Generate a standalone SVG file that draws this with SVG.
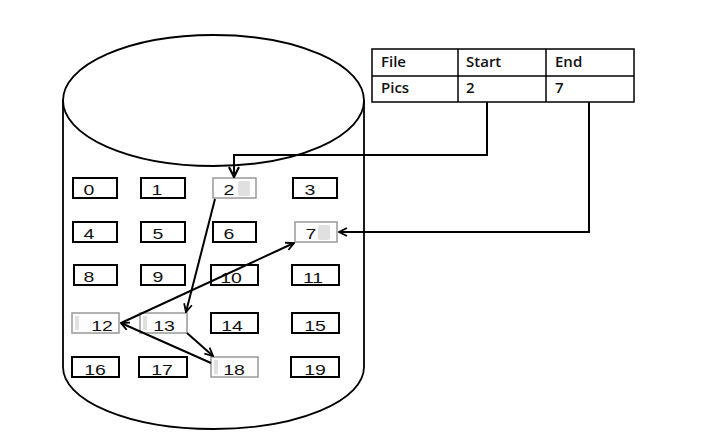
<svg xmlns="http://www.w3.org/2000/svg" width="710" height="445" viewBox="0 0 710 445">
<defs>
<marker id="arr" viewBox="0 0 10 10" refX="9" refY="5" markerWidth="10" markerHeight="10" markerUnits="userSpaceOnUse" orient="auto">
<path d="M1,1 L9,5 L1,9" fill="none" stroke="#000" stroke-width="1.8"/>
</marker>
<marker id="arrb" viewBox="0 0 12 12" refX="11" refY="6" markerWidth="12" markerHeight="12" markerUnits="userSpaceOnUse" orient="auto">
<path d="M1,1 L11,6 L1,11" fill="none" stroke="#000" stroke-width="2.2"/>
</marker>
</defs>
<style>
.blk{fill:#fff;stroke:#000;stroke-width:2}
.hl{fill:#fdfdfd;stroke:#999;stroke-width:1.5}
.patch{fill:#e0e0e0}
.bt{font-family:"Liberation Sans",Arial,sans-serif;font-size:15px;text-anchor:middle;fill:#111}
.tt{font-family:"Open Sans","Noto Sans",sans-serif;font-size:15px;font-weight:600;fill:#111}
.cyl{fill:none;stroke:#000;stroke-width:1.8}
.cn{fill:none;stroke:#000;stroke-width:2}
</style>
<rect width="710" height="445" fill="#fff"/>
<g id="cylinder">
<path class="cyl" d="M63,100 L63,367 A150.5,62 0 0 0 364,367 L364,100"/>
<ellipse class="cyl" cx="213.5" cy="100.5" rx="150.5" ry="65.5"/>
</g>
<g id="table">
<rect x="372" y="49" width="262" height="53" fill="#fff" stroke="#000" stroke-width="1.5"/>
<line x1="372" y1="76" x2="634" y2="76" stroke="#000" stroke-width="1.5"/>
<line x1="458" y1="49" x2="458" y2="102" stroke="#000" stroke-width="1.5"/>
<line x1="546" y1="49" x2="546" y2="102" stroke="#000" stroke-width="1.5"/>
<text class="tt" x="381" y="67">File</text>
<text class="tt" x="466" y="67">Start</text>
<text class="tt" x="555" y="67">End</text>
<text class="tt" x="381" y="93">Pics</text>
<text class="tt" x="466" y="93">2</text>
<text class="tt" x="555" y="93">7</text>
</g>
<g id="b0"><rect class="blk" x="73" y="178" width="44" height="20"/><text class="bt" transform="matrix(1.3 0 0 1 89 195)">0</text></g>
<g id="b1"><rect class="blk" x="141" y="178" width="44" height="20"/><text class="bt" transform="matrix(1.3 0 0 1 157 195)">1</text></g>
<g id="b2"><rect class="hl" x="213" y="178" width="43" height="20"/><rect class="patch" x="238" y="181" width="12" height="15" rx="2"/><text class="bt" transform="matrix(1.3 0 0 1 229 195)">2</text></g>
<g id="b3"><rect class="blk" x="293" y="178" width="44" height="20"/><text class="bt" transform="matrix(1.3 0 0 1 310 195)">3</text></g>
<g id="b4"><rect class="blk" x="73" y="222" width="44" height="20"/><text class="bt" transform="matrix(1.3 0 0 1 89 239)">4</text></g>
<g id="b5"><rect class="blk" x="141" y="222" width="44" height="20"/><text class="bt" transform="matrix(1.3 0 0 1 158 239)">5</text></g>
<g id="b6"><rect class="blk" x="213" y="222" width="43" height="20"/><text class="bt" transform="matrix(1.3 0 0 1 229 239)">6</text></g>
<g id="b7"><rect class="hl" x="295" y="222" width="42" height="20"/><rect class="patch" x="318" y="225" width="12" height="15" rx="2"/><text class="bt" transform="matrix(1.3 0 0 1 311 239)">7</text></g>
<g id="b8"><rect class="blk" x="74" y="265" width="43" height="20"/><text class="bt" transform="matrix(1.3 0 0 1 89 282)">8</text></g>
<g id="b9"><rect class="blk" x="141" y="265" width="44" height="20"/><text class="bt" transform="matrix(1.3 0 0 1 158 282)">9</text></g>
<g id="b10"><rect class="blk" x="211" y="265" width="47" height="20"/><text class="bt" transform="matrix(1.3 0 0 1 231 283)">10</text></g>
<g id="b11"><rect class="blk" x="292" y="265" width="47" height="20"/><text class="bt" transform="matrix(1.3 0 0 1 313 283)">11</text></g>
<g id="b12"><rect class="hl" x="72" y="313" width="47" height="20"/><rect class="patch" x="75" y="316" width="4" height="14"/><text class="bt" transform="matrix(1.3 0 0 1 102 331)">12</text></g>
<g id="b13"><rect class="hl" x="140" y="313" width="47" height="20"/><rect class="patch" x="143" y="316" width="4" height="14"/><text class="bt" transform="matrix(1.3 0 0 1 164 331)">13</text></g>
<g id="b14"><rect class="blk" x="211" y="313" width="47" height="20"/><text class="bt" transform="matrix(1.3 0 0 1 232 331)">14</text></g>
<g id="b15"><rect class="blk" x="292" y="313" width="47" height="20"/><text class="bt" transform="matrix(1.3 0 0 1 315 331)">15</text></g>
<g id="b16"><rect class="blk" x="72" y="357" width="47" height="20"/><text class="bt" transform="matrix(1.3 0 0 1 95 375)">16</text></g>
<g id="b17"><rect class="blk" x="139" y="357" width="48" height="20"/><text class="bt" transform="matrix(1.3 0 0 1 162 375)">17</text></g>
<g id="b18"><rect class="hl" x="211" y="357" width="47" height="20"/><rect class="patch" x="214" y="360" width="4" height="14"/><text class="bt" transform="matrix(1.3 0 0 1 234 375)">18</text></g>
<g id="b19"><rect class="blk" x="291" y="357" width="48" height="20"/><text class="bt" transform="matrix(1.3 0 0 1 315 375)">19</text></g>
<g id="connectors">
<path class="cn" d="M487,102 L487,155 L234,155 L234,177" marker-end="url(#arrb)"/>
<path class="cn" d="M589,102 L589,232 L339,232" stroke-width="2.2" marker-end="url(#arr)"/>
<path class="cn" d="M215,199 L186,312" marker-end="url(#arr)"/>
<path class="cn" d="M121,323 L294,243" marker-end="url(#arr)"/>
<path class="cn" d="M187,333 L213,356" marker-end="url(#arr)"/>
<path class="cn" d="M211,363 L121,323" marker-end="url(#arr)"/>
</g>
</svg>
